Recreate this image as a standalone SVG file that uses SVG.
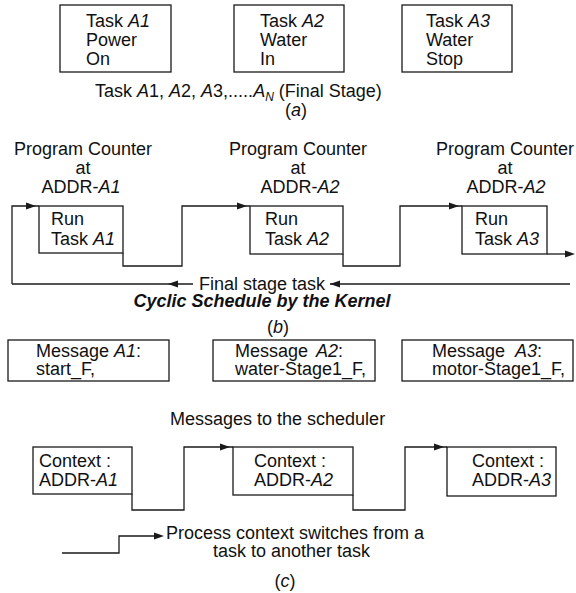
<svg xmlns="http://www.w3.org/2000/svg" width="576" height="593" viewBox="0 0 576 593">
<style>
.t{font-family:"Liberation Sans",Arial,Helvetica,sans-serif;font-size:18px;fill:#111}
.m{text-anchor:middle}
.i{font-style:italic}
.bi{font-style:italic;font-weight:bold}
.box{fill:none;stroke:#1a1a1a;stroke-width:1.3}
.ln{fill:none;stroke:#1a1a1a;stroke-width:1.3}
.ah{fill:#1a1a1a}
</style>
<defs>
<path id="ah" class="ah" d="M0,0 L-10,-3.5 L-10,3.5 Z"/>
</defs>
<rect width="576" height="593" fill="#fff"/>

<!-- (a) tasks -->
<g id="taskA1">
<rect class="box" x="60" y="5" width="111" height="67"/>
<text class="t" x="86" y="27">Task <tspan class="i">A1</tspan></text>
<text class="t" x="86" y="46">Power</text>
<text class="t" x="86" y="65">On</text>
</g>
<g id="taskA2">
<rect class="box" x="234" y="5" width="110" height="67"/>
<text class="t" x="260" y="27">Task <tspan class="i">A2</tspan></text>
<text class="t" x="260" y="46">Water</text>
<text class="t" x="260" y="65">In</text>
</g>
<g id="taskA3">
<rect class="box" x="402" y="5" width="110" height="67"/>
<text class="t" x="426" y="27">Task <tspan class="i">A3</tspan></text>
<text class="t" x="426" y="46">Water</text>
<text class="t" x="426" y="65">Stop</text>
</g>
<g id="captionA">
<text class="t" x="95" y="97">Task <tspan class="i">A</tspan>1, <tspan class="i">A</tspan>2, <tspan class="i">A</tspan>3,.....<tspan class="i">A</tspan><tspan class="i" font-size="12" dy="4">N</tspan><tspan dy="-4"> (Final Stage)</tspan></text>
<text class="t m" x="296" y="116">(<tspan class="i">a</tspan>)</text>
</g>

<!-- (b) program counters -->
<g id="pc1">
<text class="t m" x="83" y="155">Program Counter</text>
<text class="t m" x="83" y="174">at</text>
<text class="t m" x="81" y="193">ADDR-<tspan class="i">A1</tspan></text>
</g>
<g id="pc2">
<text class="t m" x="298" y="155">Program Counter</text>
<text class="t m" x="298" y="174">at</text>
<text class="t m" x="300" y="193">ADDR-<tspan class="i">A2</tspan></text>
</g>
<g id="pc3">
<text class="t m" x="505" y="155">Program Counter</text>
<text class="t m" x="505" y="174">at</text>
<text class="t m" x="506" y="193">ADDR-<tspan class="i">A2</tspan></text>
</g>
<g id="run1">
<rect class="box" x="39" y="206" width="84" height="47"/>
<text class="t" x="51" y="225">Run</text>
<text class="t" x="51" y="245">Task <tspan class="i">A1</tspan></text>
</g>
<g id="run2">
<rect class="box" x="250" y="206" width="93" height="48"/>
<text class="t" x="265" y="225">Run</text>
<text class="t" x="265" y="245">Task <tspan class="i">A2</tspan></text>
</g>
<g id="run3">
<rect class="box" x="462" y="206" width="85" height="48"/>
<text class="t" x="475" y="225">Run</text>
<text class="t" x="475" y="245">Task <tspan class="i">A3</tspan></text>
</g>
<g id="captionB">
<text class="t" x="199" y="290">Final stage task</text>
<text class="t m bi" x="262" y="307">Cyclic Schedule by the Kernel</text>
<text class="t m" x="278" y="333">(<tspan class="i">b</tspan>)</text>
</g>

<!-- (c) messages -->
<g id="msgA1">
<rect class="box" x="8" y="340" width="161" height="41"/>
<text class="t" x="36" y="357">Message <tspan class="i">A1</tspan>:</text>
<text class="t" x="36" y="375">start_F,</text>
</g>
<g id="msgA2">
<rect class="box" x="213" y="340" width="162" height="41"/>
<text class="t" x="235" y="357">Message <tspan class="i" dx="3">A2</tspan>:</text>
<text class="t" x="235" y="375">water-Stage1_F,</text>
</g>
<g id="msgA3">
<rect class="box" x="402" y="340" width="171" height="41"/>
<text class="t" x="432" y="357">Message <tspan class="i" dx="5">A3</tspan>:</text>
<text class="t" x="432" y="375">motor-Stage1_F,</text>
</g>
<text class="t" x="170" y="425">Messages to the scheduler</text>
<g id="ctxA1">
<rect class="box" x="33" y="447" width="99" height="47"/>
<text class="t" x="39" y="467">Context :</text>
<text class="t" x="39" y="486">ADDR-<tspan class="i">A1</tspan></text>
</g>
<g id="ctxA2">
<rect class="box" x="233" y="447" width="120" height="48"/>
<text class="t" x="254" y="467">Context :</text>
<text class="t" x="254" y="486">ADDR-<tspan class="i">A2</tspan></text>
</g>
<g id="ctxA3">
<rect class="box" x="447" y="447" width="109" height="49"/>
<text class="t" x="472" y="467">Context :</text>
<text class="t" x="472" y="486">ADDR-<tspan class="i">A3</tspan></text>
</g>
<g id="legendC">
<text class="t" x="166" y="539">Process context switches from a</text>
<text class="t" x="213" y="557">task to another task</text>
<text class="t m" x="285" y="587">(<tspan class="i">c</tspan>)</text>
</g>

<!-- connectors -->
<g id="connectors">
<path class="ln" d="M12,284 V206 H39"/>
<use href="#ah" transform="translate(36,206)"/>
<path class="ln" d="M123,253 V266 H182 V206 H250"/>
<use href="#ah" transform="translate(247,206)"/>
<path class="ln" d="M343,254 V266 H400 V206 H462"/>
<use href="#ah" transform="translate(459,206)"/>
<path class="ln" d="M547,254 H572"/>
<use href="#ah" transform="translate(575,254)"/>
<path class="ln" d="M12,284 H193"/>
<use href="#ah" transform="translate(168,284) rotate(180)"/>
<path class="ln" d="M330,284 H570"/>
<use href="#ah" transform="translate(330,284) rotate(180)"/>
<path class="ln" d="M132,494 V510 H184 V447 H233"/>
<use href="#ah" transform="translate(230,447)"/>
<path class="ln" d="M353,495 V510 H405 V447 H447"/>
<use href="#ah" transform="translate(444,447)"/>
<path class="ln" d="M62,553 H119 V536 H160"/>
<use href="#ah" transform="translate(164,536)"/>
</g>
</svg>
